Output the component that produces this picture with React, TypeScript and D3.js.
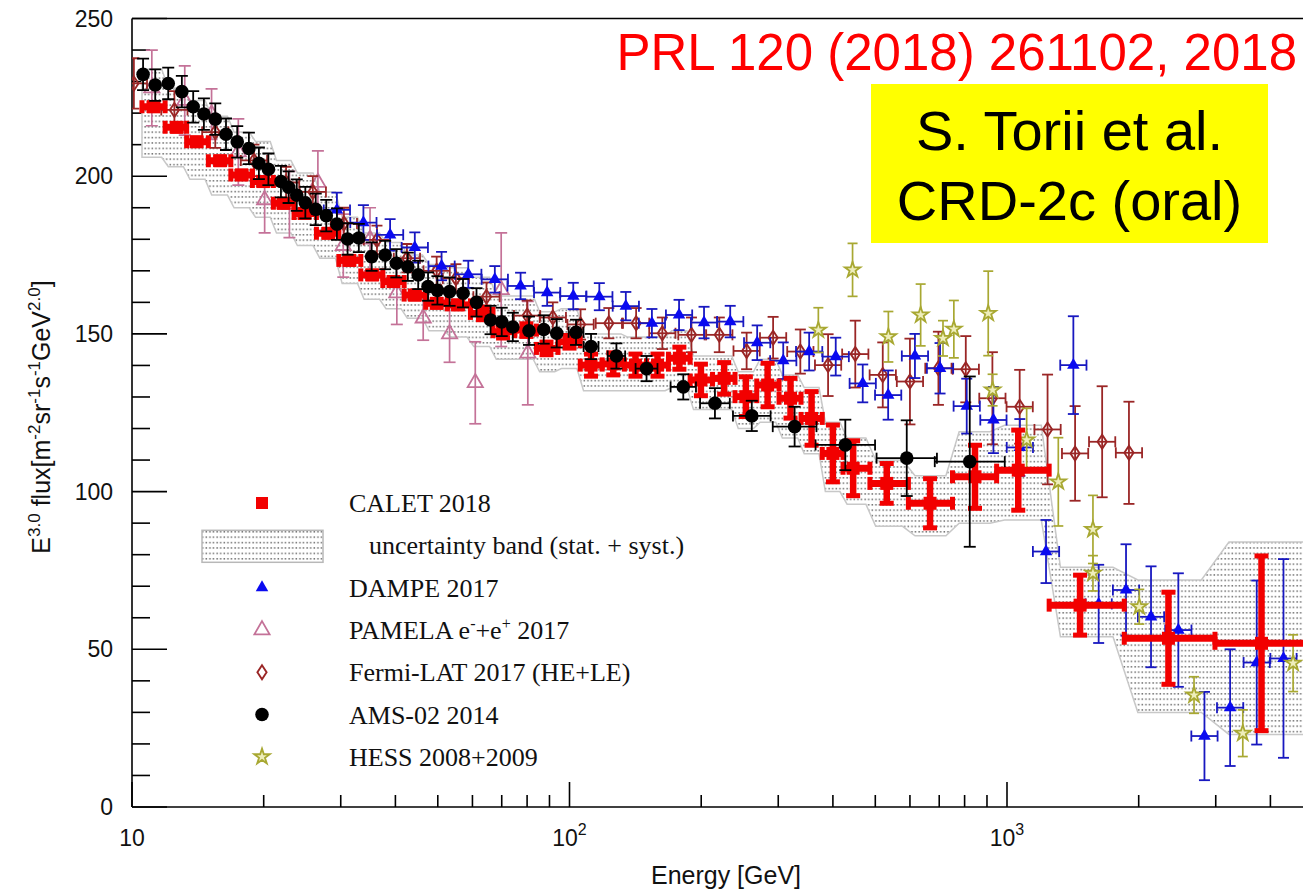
import React from "react";
import * as d3 from "d3";

// ---------------- data ----------------
// CALET 2018
const calE = [11.2, 12.65, 14.05, 15.9, 17.8, 19.95, 22.2, 24.8, 28.1, 31.4, 35.4, 39.6, 44.3, 49.7, 55.6, 63.4, 70.5, 79.7, 88.6, 100, 112, 125.9, 141.5, 158.9, 178.3, 199.7, 225.7, 253, 283.7, 320, 357.5, 400, 445, 531, 667, 845, 1061, 1469, 2339, 3817];
const calV = [222.0, 215.5, 210.9, 204.9, 200.4, 198.3, 191.4, 188.2, 181.9, 173.3, 168.7, 166.6, 162.3, 159.7, 159.2, 156.5, 150.7, 151.2, 145.4, 147.5, 140.1, 140.5, 140.1, 140.1, 142.3, 135.4, 135.9, 130.1, 133.8, 129.6, 123.2, 112.1, 107.4, 102.6, 96.3, 104.7, 106.8, 64.0, 53.5, 51.9];
const calErr = [1.2, 1.2, 1.2, 1.2, 1.2, 1.2, 1.2, 1.2, 1.2, 1.2, 1.2, 1.2, 1.2, 1.2, 1.2, 2, 2, 2, 2, 2, 3.5, 3.5, 3.5, 3.5, 3.5, 5, 5, 6.3, 6.9, 6.3, 8.5, 9, 8.7, 6.3, 7.8, 10, 12.7, 9.5, 14.6, 27.7];
// CALET uncertainty band (stat. + syst.), per CALET bin
const bandLo = [206, 203, 199, 194, 190, 187, 182, 178, 174, 166, 161, 158, 155, 151, 149, 146, 142, 142, 138, 139, 132, 132, 132, 132, 133, 126, 126, 120, 122, 117, 112, 100, 96, 89, 86, 90, 91, 54, 30, 23];
const bandHi = [234, 228, 224, 219, 214, 211, 205, 201, 195, 187, 182, 179, 175, 172, 171, 168, 162, 162, 157, 158, 150, 150, 149, 149, 151, 143, 143, 138, 142, 137, 133, 122, 117, 110, 105, 119, 121, 76, 72, 84];

// DAMPE 2017
const dampeE = [29.4, 33.8, 38.9, 44.3, 51.0, 58.7, 67.5, 77.3, 88.9, 102, 117, 134.5, 154.3, 178, 203, 233, 268.5, 308, 353, 406, 468, 535, 616, 703, 809, 931, 1070, 1228, 1418, 1620, 1871, 2134, 2464, 2827, 3236, 3722, 4285];
const dampeV = [189.3, 185.3, 181.4, 177.4, 171.5, 168.9, 167.3, 165.2, 163.1, 162, 161.8, 158.8, 153.4, 156, 153.6, 153.9, 147.2, 141.5, 144.4, 142.8, 134.3, 130.6, 143, 139.1, 127.1, 122.7, 114, 81, 140.1, 64.4, 68.8, 60.3, 56.1, 22.5, 31.5, 45.8, 47.1];
const dampeErr = [5.5, 5.5, 5, 4.8, 4.5, 4.3, 4.2, 4.2, 4.2, 4.2, 4.3, 4.5, 4.5, 4.8, 5, 5, 5.5, 5.8, 6, 6, 6, 7.8, 7, 8, 8.7, 10.5, 9, 10, 15.5, 12.4, 14.5, 16, 18, 14, 18.5, 26, 31.5];

// PAMELA e- + e+ 2017
const pamE = [11.1, 13.2, 15.2, 17.5, 20.1, 22.9, 26.6, 30.4, 35.0, 40.3, 46.3, 53.2, 60.9, 69.8, 80.3];
const pamV = [228, 224, 219.7, 207.7, 192.5, 191, 198, 178, 180, 163, 155, 150, 134.5, 164, 143.9];
const pamErr = [12, 11, 8, 10.5, 10.5, 10.5, 10, 10, 10, 10, 7, 9, 13, 18, 16.4];

// Fermi-LAT 2017 (HE+LE)
const fermiE = [10.1, 12.5, 15.5, 19.0, 22.5, 25.9, 30.5, 36.3, 42.5, 49.7, 55.0, 64.6, 80.0, 91.6, 106, 123, 142, 163, 190, 220, 254, 292, 337, 390, 450, 520, 600, 697, 805, 926, 1069, 1238, 1431, 1650, 1900];
const fermiV = [229.4, 221, 214, 205, 198, 195, 185, 179.8, 174, 170, 167.6, 161.8, 155.8, 155.2, 153, 153.4, 153.4, 150.2, 149.7, 149.7, 144.6, 148.8, 144.4, 140.1, 143.6, 137, 134.9, 139.1, 138.8, 129.6, 126.9, 119.7, 112.1, 115.8, 112.3];
const fermiErr = [8, 6, 5, 5, 5, 5, 5, 4.5, 4.5, 4.5, 4.5, 4.5, 4.8, 4.8, 4.8, 4.8, 4.8, 5, 5.5, 5.5, 5.8, 6.6, 7, 9.8, 10.6, 10.3, 13.6, 11.6, 10.5, 14.6, 11.7, 17.4, 15, 17.6, 16.2];

// AMS-02 2014
const amsE = [10.6, 11.3, 12.1, 13.0, 13.8, 14.6, 15.5, 16.4, 17.4, 18.5, 19.5, 20.5, 21.9, 22.8, 23.8, 24.9, 26.3, 27.8, 29.4, 31.1, 33.0, 35.3, 37.9, 40.2, 42.7, 45.1, 47.5, 49.9, 53.2, 57.1, 61.3, 66.0, 70.0, 74.2, 80.8, 87.3, 93.5, 103.5, 112, 128, 150, 182, 215, 261, 327, 427, 590, 822];
const amsV = [232.3, 228.9, 229.4, 226.8, 222.0, 219.7, 218.1, 213.3, 210.9, 208.8, 204.1, 202.2, 198.3, 196.5, 194.0, 191.6, 189.5, 187.5, 184.8, 180.1, 180.4, 174.5, 175.0, 172.4, 171.3, 168.7, 165.0, 163.8, 163.4, 162.9, 160.0, 154.4, 153.8, 152.2, 151.0, 151.4, 150.2, 150.5, 146.0, 143.0, 139.0, 133.2, 128.0, 124.0, 120.6, 114.8, 110.6, 109.5];
const amsErr = [5, 5, 5, 5, 5, 5, 5, 5, 5, 5, 5, 5, 5, 5, 5, 5, 5, 5, 5, 5, 4.5, 4.5, 4.5, 4.5, 4.5, 4.5, 4.5, 4.5, 4.5, 4.5, 4.5, 4.5, 4.5, 4.5, 4.5, 4.5, 4.5, 4, 4, 4, 4, 4, 4.8, 4.8, 6.3, 8, 12, 27];
// half bin width in decades
const amsBinDex = [0.01, 0.01, 0.01, 0.01, 0.01, 0.01, 0.01, 0.01, 0.01, 0.01, 0.01, 0.01, 0.01, 0.01, 0.01, 0.01, 0.01, 0.01, 0.01, 0.01, 0.01, 0.01, 0.01, 0.01, 0.01, 0.01, 0.01, 0.01, 0.01, 0.01, 0.01, 0.01, 0.01, 0.01, 0.01, 0.01, 0.01, 0.017, 0.017, 0.02, 0.025, 0.029, 0.034, 0.043, 0.05, 0.068, 0.069, 0.08];

// HESS 2008+2009
const hessE = [370.5, 443.6, 535.6, 634.8, 714, 756, 906, 927, 1109, 1310, 1572, 1572, 2006, 2676, 3459, 4508];
const hessV = [151.2, 170.3, 149.1, 156, 148.6, 151.5, 156.5, 132.2, 116.4, 103.1, 88.0, 74.1, 63.5, 35.5, 23.4, 45.6];
const hessErr = [7.1, 8.4, 8, 9.8, 5.6, 9.1, 13.4, 5, 10, 14, 10.8, 5.6, 5.5, 5.8, 7.4, 9];

// axis ticks
const yMajorTicks = [0, 50, 100, 150, 200, 250];
const yMinorTicks = d3.range(0, 251, 10).filter((v) => v % 50 !== 0);
const xMajorTicks = [10, 100, 1000];
const xMajorExp = ["", "2", "3"];
const xMinorTicks = [20, 30, 40, 50, 60, 70, 80, 90, 200, 300, 400, 500, 600, 700, 800, 900, 2000, 3000, 4000];

const legendLabels = ["CALET 2018", "uncertainty band (stat. + syst.)", "DAMPE 2017", "PAMELA", "Fermi-LAT 2017 (HE+LE)", "AMS-02 2014", "HESS 2008+2009"];

// ---------------- layout ----------------
const W = 1303, H = 891;
const PL = 132, PR = 1303, PT = 18.5, PB = 807;
const x = d3.scaleLog().domain([10, 1000]).range([PL, 1007]);
const y = d3.scaleLinear().domain([0, 250]).range([PB, PT]);

const SANS = "'Liberation Sans', Arial, Helvetica, sans-serif";
const SERIF = "'Liberation Serif', 'Times New Roman', Times, serif";

const C_CAL = "#f20000";
const C_DAMPE = "#0a0af0";
const C_DAMPE_BAR = "#1818c0";
const C_PAM = "#c47298";
const C_FERMI = "#9a2626";
const C_AMS = "#000000";
const C_HESS = "#a8a832";

const triPath = d3.symbol().type(d3.symbolTriangle).size(68)() as string;
const triOpenPath = d3.symbol().type(d3.symbolTriangle).size(100)() as string;
const starPath = d3.symbol().type(d3.symbolStar).size(75)() as string;
const diamondPath = "M0,-7L4.6,0L0,7L-4.6,0Z";

type MarkerFn = (cx: number, cy: number) => React.ReactNode;

function ErrSeries(props: {
  E: number[]; V: number[]; err: number[]; xdex?: number[] | number;
  color: string; sw: number; cap: number; capH?: number; minX?: number; marker: MarkerFn;
}) {
  const { E, V, err, xdex, color, sw, cap, capH, minX = 0, marker } = props;
  return (
    <g>
      {E.map((e, i) => {
        const cx = x(e), cy = y(V[i]);
        const y1 = y(V[i] + err[i]), y2 = y(V[i] - err[i]);
        const xd = xdex === undefined ? 0 : typeof xdex === "number" ? xdex : xdex[i];
        const xl = x(e / Math.pow(10, xd)), xr = x(e * Math.pow(10, xd));
        const showX = xd > 0 && xr - cx > minX;
        const ch = capH ?? cap;
        return (
          <g key={i}>
            <line x1={cx} x2={cx} y1={y1} y2={y2} stroke={color} strokeWidth={sw} />
            <line x1={cx - cap / 2} x2={cx + cap / 2} y1={y1} y2={y1} stroke={color} strokeWidth={sw} />
            <line x1={cx - cap / 2} x2={cx + cap / 2} y1={y2} y2={y2} stroke={color} strokeWidth={sw} />
            {showX && (
              <g>
                <line x1={xl} x2={xr} y1={cy} y2={cy} stroke={color} strokeWidth={sw} />
                <line x1={xl} x2={xl} y1={cy - ch / 2} y2={cy + ch / 2} stroke={color} strokeWidth={sw} />
                <line x1={xr} x2={xr} y1={cy - ch / 2} y2={cy + ch / 2} stroke={color} strokeWidth={sw} />
              </g>
            )}
            {marker(cx, cy)}
          </g>
        );
      })}
    </g>
  );
}

const mkSquare = (s: number) => (cx: number, cy: number) => (
  <rect x={cx - s / 2} y={cy - s / 2} width={s} height={s} fill={C_CAL} />
);
const mkTri = (cx: number, cy: number) => <path d={triPath} transform={`translate(${cx},${cy})`} fill={C_DAMPE} />;
const mkTriOpen = (cx: number, cy: number) => (
  <path d={triOpenPath} transform={`translate(${cx},${cy})`} fill="none" stroke={C_PAM} strokeWidth={1.8} />
);
const mkDiamond = (cx: number, cy: number) => (
  <path d={diamondPath} transform={`translate(${cx},${cy})`} fill="none" stroke={C_FERMI} strokeWidth={1.9} />
);
const mkCircle = (cx: number, cy: number) => <circle cx={cx} cy={cy} r={6.8} fill={C_AMS} />;
const mkStar = (cx: number, cy: number) => (
  <path d={starPath} transform={`translate(${cx},${cy})`} fill="#eeeebb" stroke={C_HESS} strokeWidth={1.8} />
);

export default function App() {
  const n = calE.length;
  // CALET bins: geometric midpoints between neighbouring energies
  const calBins = calE.map((e, i) => {
    const lo = i > 0 ? Math.sqrt(calE[i - 1] * e) : (e * e) / Math.sqrt(e * calE[i + 1]);
    const hi = i < n - 1 ? Math.sqrt(e * calE[i + 1]) : (e * e) / Math.sqrt(calE[i - 1] * e);
    return [lo, hi];
  });

  // band polygon (staircase with slanted risers)
  const f = 0.15;
  const upper: [number, number][] = [];
  const lower: [number, number][] = [];
  calBins.forEach(([lo, hi], i) => {
    const la = Math.log10(lo), lb = Math.log10(hi), d = lb - la;
    const a = i === 0 ? la : la + f * d;
    const b = i === n - 1 ? lb : lb - f * d;
    upper.push([x(Math.pow(10, a)), y(bandHi[i])], [x(Math.pow(10, b)), y(bandHi[i])]);
    lower.push([x(Math.pow(10, a)), y(bandLo[i])], [x(Math.pow(10, b)), y(bandLo[i])]);
  });
  const bandPath =
    "M" + upper.map((p) => p.join(",")).join("L") + "L" + lower.slice().reverse().map((p) => p.join(",")).join("L") + "Z";

  const legX = 262, legTX = 349, legY0 = 503, legStep = 42.3;
  const legY = legendLabels.map((_, i) => legY0 + i * legStep);

  return (
    <div style={{ position: "absolute", left: 0, top: 0, width: W, height: H, background: "#fff" }}>
      <svg width={W} height={H} style={{ display: "block" }}>
        <defs>
          <pattern id="bandDots" width="3.6" height="5.4" patternUnits="userSpaceOnUse">
            <rect width="3.6" height="5.4" fill="#ffffff" />
            <rect x="0.4" y="2" width="1.5" height="1.2" fill="#4a4a4a" />
          </pattern>
          <clipPath id="plotClip">
            <rect x={PL} y={PT} width={PR - PL} height={PB - PT} />
          </clipPath>
        </defs>
        <rect width={W} height={H} fill="#ffffff" />

        {/* axes */}
        <g stroke="#000" strokeWidth={1.6}>
          <line x1={PL} x2={PL} y1={PT} y2={PB} />
          <line x1={PL} x2={PR} y1={PB} y2={PB} />
          <line x1={PL} x2={PR} y1={PT} y2={PT} />
          {yMajorTicks.map((v) => (
            <line key={"ym" + v} x1={PL} x2={PL + 35} y1={y(v)} y2={y(v)} />
          ))}
          {yMinorTicks.map((v) => (
            <line key={"yn" + v} x1={PL} x2={PL + 18} y1={y(v)} y2={y(v)} />
          ))}
          {xMajorTicks.map((v) => (
            <line key={"xm" + v} x1={x(v)} x2={x(v)} y1={PB} y2={PB - 25} />
          ))}
          {xMinorTicks.map((v) => (
            <line key={"xn" + v} x1={x(v)} x2={x(v)} y1={PB} y2={PB - 12} />
          ))}
        </g>
        <g fontFamily={SANS} fontSize={23} fill="#111">
          {yMajorTicks.map((v) => (
            <text key={"yl" + v} x={113} y={y(v) + 8} textAnchor="end">{v}</text>
          ))}
          {xMajorTicks.map((v, i) => (
            <text key={"xl" + v} x={x(v)} y={846} textAnchor="middle">
              10
              {xMajorExp[i] && (
                <tspan dy={-11} fontSize={16}>{xMajorExp[i]}</tspan>
              )}
            </text>
          ))}
        </g>
        <text x={726} y={884} textAnchor="middle" fontFamily={SANS} fontSize={25} fill="#111">Energy [GeV]</text>
        <text transform="translate(50,417) rotate(-90)" textAnchor="middle" fontFamily={SANS} fontSize={25} fill="#111">
          E<tspan dy={-10} fontSize={17}>3.0</tspan>
          <tspan dy={10}> flux[m</tspan>
          <tspan dy={-10} fontSize={17}>-2</tspan>
          <tspan dy={10}>sr</tspan>
          <tspan dy={-10} fontSize={17}>-1</tspan>
          <tspan dy={10}>s</tspan>
          <tspan dy={-10} fontSize={17}>-1</tspan>
          <tspan dy={10}>GeV</tspan>
          <tspan dy={-10} fontSize={17}>2.0</tspan>
          <tspan dy={10}>]</tspan>
        </text>

        {/* data */}
        <g clipPath="url(#plotClip)">
          <path d={bandPath} fill="url(#bandDots)" stroke="#c8c8c8" strokeWidth={1.5} />
          <ErrSeries E={pamE} V={pamV} err={pamErr} color={C_PAM} sw={1.7} cap={12} marker={mkTriOpen} />
          <ErrSeries E={fermiE} V={fermiV} err={fermiErr} xdex={0.03} color={C_FERMI} sw={1.8} cap={11} capH={11} marker={mkDiamond} />
          <ErrSeries E={dampeE} V={dampeV} err={dampeErr} xdex={0.03} color={C_DAMPE_BAR} sw={1.8} cap={11} capH={11} marker={mkTri} />
          <ErrSeries E={hessE} V={hessV} err={hessErr} color={C_HESS} sw={1.7} cap={10} marker={mkStar} />
          {/* CALET */}
          <g>
            {calE.map((e, i) => {
              const cx = x(e), cy = y(calV[i]);
              const xl = x(calBins[i][0]), xr = x(calBins[i][1]);
              const y1 = y(calV[i] + calErr[i]), y2 = y(calV[i] - calErr[i]);
              return (
                <g key={i} stroke={C_CAL}>
                  <line x1={xl} x2={xr} y1={cy} y2={cy} strokeWidth={7} />
                  <line x1={xl} x2={xl} y1={cy - 6.5} y2={cy + 6.5} strokeWidth={5} />
                  <line x1={xr} x2={xr} y1={cy - 6.5} y2={cy + 6.5} strokeWidth={5} />
                  <line x1={cx} x2={cx} y1={y1} y2={y2} strokeWidth={6.5} />
                  <line x1={cx - 7} x2={cx + 7} y1={y1} y2={y1} strokeWidth={5} />
                  <line x1={cx - 7} x2={cx + 7} y1={y2} y2={y2} strokeWidth={5} />
                  <rect x={cx - 6.5} y={cy - 6.5} width={13} height={13} fill={C_CAL} stroke="none" />
                </g>
              );
            })}
          </g>
          <ErrSeries E={amsE} V={amsV} err={amsErr} xdex={amsBinDex} minX={7} color={C_AMS} sw={1.8} cap={12} capH={11} marker={mkCircle} />
        </g>

        {/* legend */}
        <g>
          {mkSquare(12)(legX, legY[0])}
          <rect x={202} y={legY[1] - 15} width={121} height={32} fill="url(#bandDots)" stroke="#b8b8b8" strokeWidth={1.5} />
          {mkTri(legX, legY[2])}
          {mkTriOpen(legX, legY[3])}
          {mkDiamond(legX, legY[4])}
          {mkCircle(legX, legY[5])}
          {mkStar(legX, legY[6])}
        </g>
        <g fontFamily={SERIF} fontSize={26} fill="#111">
          <text x={legTX} y={legY[0] + 9}>{legendLabels[0]}</text>
          <text x={legTX + 20} y={legY[1] + 9}>{legendLabels[1]}</text>
          <text x={legTX} y={legY[2] + 9}>{legendLabels[2]}</text>
          <text x={legTX} y={legY[3] + 9}>
            {legendLabels[3]} e<tspan dy={-10} fontSize={16}>-</tspan>
            <tspan dy={10}>+e</tspan>
            <tspan dy={-10} fontSize={16}>+</tspan>
            <tspan dy={10}> 2017</tspan>
          </text>
          <text x={legTX} y={legY[4] + 9}>{legendLabels[4]}</text>
          <text x={legTX} y={legY[5] + 9}>{legendLabels[5]}</text>
          <text x={legTX} y={legY[6] + 9}>{legendLabels[6]}</text>
        </g>

        {/* annotations */}
        <text x={1297} y={70} textAnchor="end" fontFamily={SANS} fontSize={51} fill="#ff0000">PRL 120 (2018) 261102, 2018</text>
        <rect x={871} y={84} width={397} height={159} fill="#ffff00" />
        <g fontFamily={SANS} fontSize={56} fill="#000" textAnchor="middle">
          <text x={1069.5} y={150}>S. Torii et al.</text>
          <text x={1069.5} y={220}>CRD-2c (oral)</text>
        </g>
      </svg>
    </div>
  );
}
